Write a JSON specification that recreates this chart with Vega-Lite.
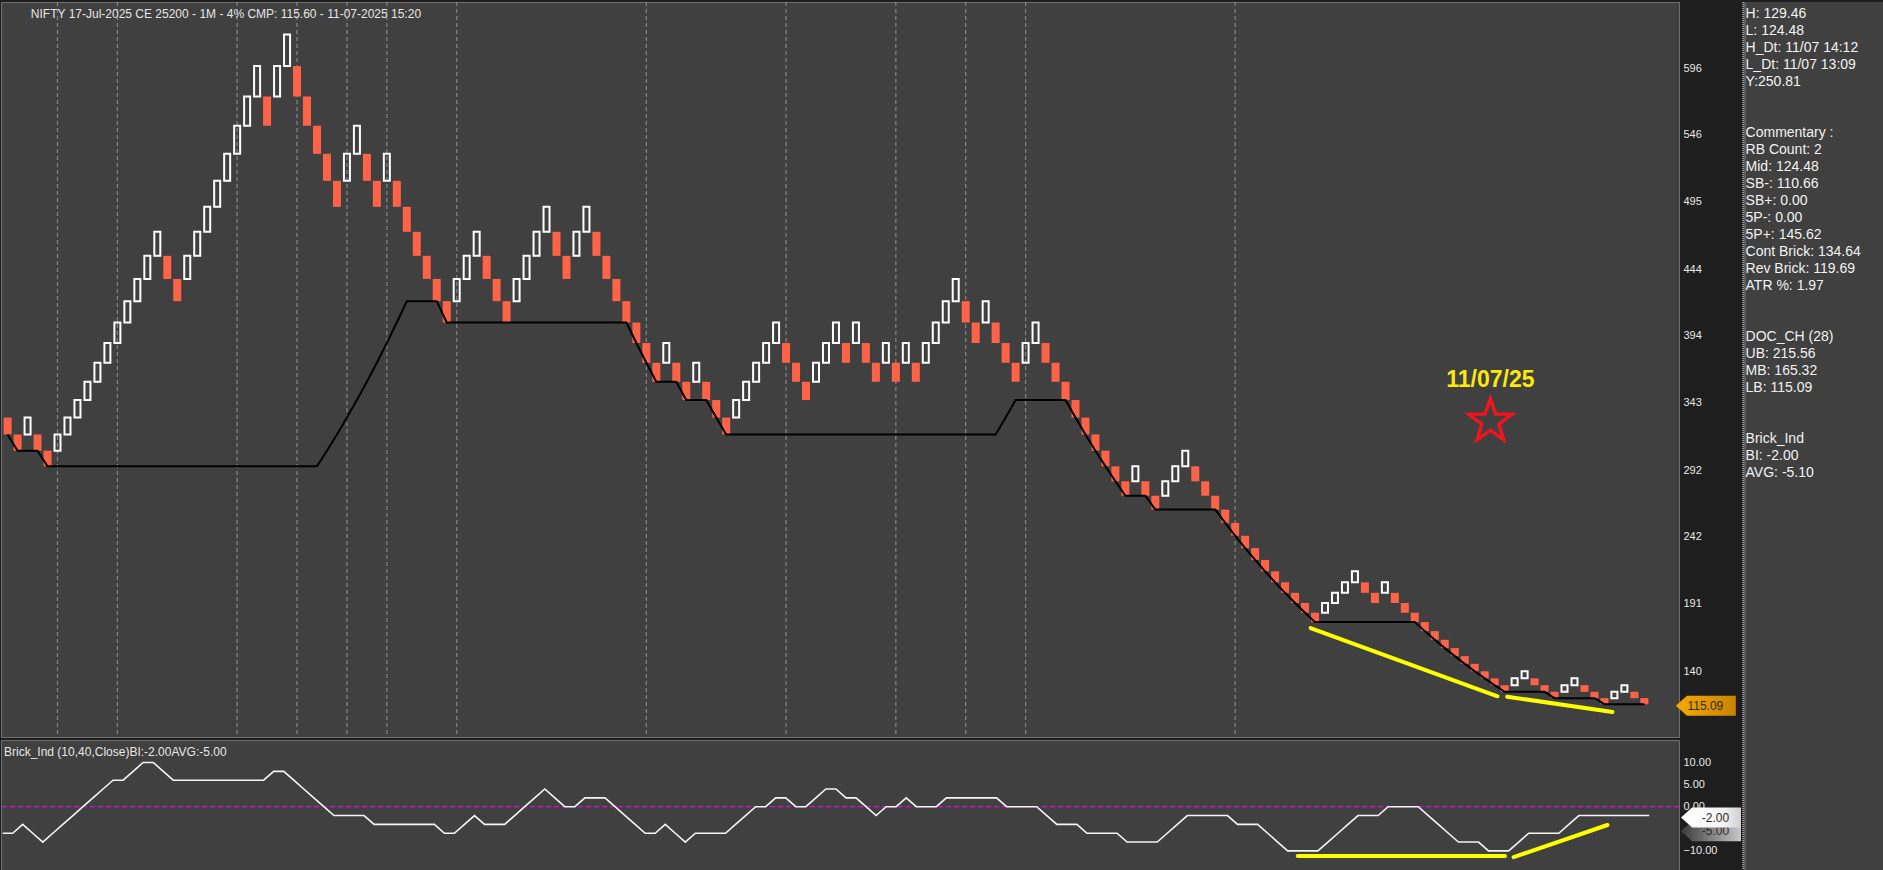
{
"$schema": "https://vega.github.io/schema/vega-lite/v6.json",
"background": "#1e1e1e",
"padding": 0,
"spacing": 0,
"config": {
  "view": {"stroke": null},
  "axis": {"domain": false, "ticks": false, "grid": false, "labelColor": "#e8e8e8", "labelFont": "Liberation Sans", "labelFontSize": 11, "labelPadding": 4, "minExtent": 62, "maxExtent": 62, "title": null, "labelOverlap": false}
},
"datasets": {
  "bricks": [
{"i":0,"lo":319.08,"hi":331.84,"d":"D","lb":319.08,"bi":-6},
{"i":1,"lo":306.8,"hi":319.08,"d":"D","lb":306.8,"bi":-6},
{"i":2,"lo":319.08,"hi":331.84,"d":"U","lb":306.8,"bi":-4},
{"i":3,"lo":306.8,"hi":319.08,"d":"D","lb":306.8,"bi":-6},
{"i":4,"lo":295.0,"hi":306.8,"d":"D","lb":295.0,"bi":-8},
{"i":5,"lo":306.8,"hi":319.08,"d":"U","lb":295.0,"bi":-6},
{"i":6,"lo":319.08,"hi":331.84,"d":"U","lb":295.0,"bi":-4},
{"i":7,"lo":331.84,"hi":345.11,"d":"U","lb":295.0,"bi":-2},
{"i":8,"lo":345.11,"hi":358.92,"d":"U","lb":295.0,"bi":0},
{"i":9,"lo":358.92,"hi":373.28,"d":"U","lb":295.0,"bi":2},
{"i":10,"lo":373.28,"hi":388.21,"d":"U","lb":295.0,"bi":4},
{"i":11,"lo":388.21,"hi":403.73,"d":"U","lb":295.0,"bi":6},
{"i":12,"lo":403.73,"hi":419.88,"d":"U","lb":295.0,"bi":6},
{"i":13,"lo":419.88,"hi":436.68,"d":"U","lb":295.0,"bi":8},
{"i":14,"lo":436.68,"hi":454.15,"d":"U","lb":295.0,"bi":10},
{"i":15,"lo":454.15,"hi":472.31,"d":"U","lb":295.0,"bi":10},
{"i":16,"lo":436.68,"hi":454.15,"d":"D","lb":295.0,"bi":8},
{"i":17,"lo":419.88,"hi":436.68,"d":"D","lb":295.0,"bi":6},
{"i":18,"lo":436.68,"hi":454.15,"d":"U","lb":295.0,"bi":6},
{"i":19,"lo":454.15,"hi":472.31,"d":"U","lb":295.0,"bi":6},
{"i":20,"lo":472.31,"hi":491.2,"d":"U","lb":295.0,"bi":6},
{"i":21,"lo":491.2,"hi":510.85,"d":"U","lb":295.0,"bi":6},
{"i":22,"lo":510.85,"hi":531.29,"d":"U","lb":295.0,"bi":6},
{"i":23,"lo":531.29,"hi":552.54,"d":"U","lb":295.0,"bi":6},
{"i":24,"lo":552.54,"hi":574.64,"d":"U","lb":295.0,"bi":6},
{"i":25,"lo":574.64,"hi":597.62,"d":"U","lb":295.0,"bi":6},
{"i":26,"lo":552.54,"hi":574.64,"d":"D","lb":295.0,"bi":6},
{"i":27,"lo":574.64,"hi":597.62,"d":"U","lb":295.0,"bi":8},
{"i":28,"lo":597.62,"hi":621.53,"d":"U","lb":295.0,"bi":8},
{"i":29,"lo":574.64,"hi":597.62,"d":"D","lb":295.0,"bi":6},
{"i":30,"lo":552.54,"hi":574.64,"d":"D","lb":295.0,"bi":4},
{"i":31,"lo":531.29,"hi":552.54,"d":"D","lb":295.0,"bi":2},
{"i":32,"lo":510.85,"hi":531.29,"d":"D","lb":306.8,"bi":0},
{"i":33,"lo":491.2,"hi":510.85,"d":"D","lb":319.08,"bi":-2},
{"i":34,"lo":510.85,"hi":531.29,"d":"U","lb":331.84,"bi":-2},
{"i":35,"lo":531.29,"hi":552.54,"d":"U","lb":345.11,"bi":-2},
{"i":36,"lo":510.85,"hi":531.29,"d":"D","lb":358.92,"bi":-2},
{"i":37,"lo":491.2,"hi":510.85,"d":"D","lb":373.28,"bi":-4},
{"i":38,"lo":510.85,"hi":531.29,"d":"U","lb":388.21,"bi":-4},
{"i":39,"lo":491.2,"hi":510.85,"d":"D","lb":403.73,"bi":-4},
{"i":40,"lo":472.31,"hi":491.2,"d":"D","lb":419.88,"bi":-4},
{"i":41,"lo":454.15,"hi":472.31,"d":"D","lb":419.88,"bi":-4},
{"i":42,"lo":436.68,"hi":454.15,"d":"D","lb":419.88,"bi":-4},
{"i":43,"lo":419.88,"hi":436.68,"d":"D","lb":419.88,"bi":-4},
{"i":44,"lo":403.73,"hi":419.88,"d":"D","lb":403.73,"bi":-6},
{"i":45,"lo":419.88,"hi":436.68,"d":"U","lb":403.73,"bi":-6},
{"i":46,"lo":436.68,"hi":454.15,"d":"U","lb":403.73,"bi":-4},
{"i":47,"lo":454.15,"hi":472.31,"d":"U","lb":403.73,"bi":-2},
{"i":48,"lo":436.68,"hi":454.15,"d":"D","lb":403.73,"bi":-4},
{"i":49,"lo":419.88,"hi":436.68,"d":"D","lb":403.73,"bi":-4},
{"i":50,"lo":403.73,"hi":419.88,"d":"D","lb":403.73,"bi":-4},
{"i":51,"lo":419.88,"hi":436.68,"d":"U","lb":403.73,"bi":-2},
{"i":52,"lo":436.68,"hi":454.15,"d":"U","lb":403.73,"bi":0},
{"i":53,"lo":454.15,"hi":472.31,"d":"U","lb":403.73,"bi":2},
{"i":54,"lo":472.31,"hi":491.2,"d":"U","lb":403.73,"bi":4},
{"i":55,"lo":454.15,"hi":472.31,"d":"D","lb":403.73,"bi":2},
{"i":56,"lo":436.68,"hi":454.15,"d":"D","lb":403.73,"bi":0},
{"i":57,"lo":454.15,"hi":472.31,"d":"U","lb":403.73,"bi":0},
{"i":58,"lo":472.31,"hi":491.2,"d":"U","lb":403.73,"bi":2},
{"i":59,"lo":454.15,"hi":472.31,"d":"D","lb":403.73,"bi":2},
{"i":60,"lo":436.68,"hi":454.15,"d":"D","lb":403.73,"bi":2},
{"i":61,"lo":419.88,"hi":436.68,"d":"D","lb":403.73,"bi":0},
{"i":62,"lo":403.73,"hi":419.88,"d":"D","lb":403.73,"bi":-2},
{"i":63,"lo":388.21,"hi":403.73,"d":"D","lb":388.21,"bi":-4},
{"i":64,"lo":373.28,"hi":388.21,"d":"D","lb":373.28,"bi":-6},
{"i":65,"lo":358.92,"hi":373.28,"d":"D","lb":358.92,"bi":-6},
{"i":66,"lo":373.28,"hi":388.21,"d":"U","lb":358.92,"bi":-4},
{"i":67,"lo":358.92,"hi":373.28,"d":"D","lb":358.92,"bi":-6},
{"i":68,"lo":345.11,"hi":358.92,"d":"D","lb":345.11,"bi":-8},
{"i":69,"lo":358.92,"hi":373.28,"d":"U","lb":345.11,"bi":-6},
{"i":70,"lo":345.11,"hi":358.92,"d":"D","lb":345.11,"bi":-6},
{"i":71,"lo":331.84,"hi":345.11,"d":"D","lb":331.84,"bi":-6},
{"i":72,"lo":319.08,"hi":331.84,"d":"D","lb":319.08,"bi":-6},
{"i":73,"lo":331.84,"hi":345.11,"d":"U","lb":319.08,"bi":-4},
{"i":74,"lo":345.11,"hi":358.92,"d":"U","lb":319.08,"bi":-2},
{"i":75,"lo":358.92,"hi":373.28,"d":"U","lb":319.08,"bi":0},
{"i":76,"lo":373.28,"hi":388.21,"d":"U","lb":319.08,"bi":0},
{"i":77,"lo":388.21,"hi":403.73,"d":"U","lb":319.08,"bi":2},
{"i":78,"lo":373.28,"hi":388.21,"d":"D","lb":319.08,"bi":2},
{"i":79,"lo":358.92,"hi":373.28,"d":"D","lb":319.08,"bi":0},
{"i":80,"lo":345.11,"hi":358.92,"d":"D","lb":319.08,"bi":0},
{"i":81,"lo":358.92,"hi":373.28,"d":"U","lb":319.08,"bi":2},
{"i":82,"lo":373.28,"hi":388.21,"d":"U","lb":319.08,"bi":4},
{"i":83,"lo":388.21,"hi":403.73,"d":"U","lb":319.08,"bi":4},
{"i":84,"lo":373.28,"hi":388.21,"d":"D","lb":319.08,"bi":2},
{"i":85,"lo":388.21,"hi":403.73,"d":"U","lb":319.08,"bi":2},
{"i":86,"lo":373.28,"hi":388.21,"d":"D","lb":319.08,"bi":0},
{"i":87,"lo":358.92,"hi":373.28,"d":"D","lb":319.08,"bi":-2},
{"i":88,"lo":373.28,"hi":388.21,"d":"U","lb":319.08,"bi":0},
{"i":89,"lo":358.92,"hi":373.28,"d":"D","lb":319.08,"bi":0},
{"i":90,"lo":373.28,"hi":388.21,"d":"U","lb":319.08,"bi":2},
{"i":91,"lo":358.92,"hi":373.28,"d":"D","lb":319.08,"bi":0},
{"i":92,"lo":373.28,"hi":388.21,"d":"U","lb":319.08,"bi":0},
{"i":93,"lo":388.21,"hi":403.73,"d":"U","lb":319.08,"bi":0},
{"i":94,"lo":403.73,"hi":419.88,"d":"U","lb":319.08,"bi":2},
{"i":95,"lo":419.88,"hi":436.68,"d":"U","lb":319.08,"bi":2},
{"i":96,"lo":403.73,"hi":419.88,"d":"D","lb":319.08,"bi":2},
{"i":97,"lo":388.21,"hi":403.73,"d":"D","lb":319.08,"bi":2},
{"i":98,"lo":403.73,"hi":419.88,"d":"U","lb":319.08,"bi":2},
{"i":99,"lo":388.21,"hi":403.73,"d":"D","lb":319.08,"bi":2},
{"i":100,"lo":373.28,"hi":388.21,"d":"D","lb":331.84,"bi":0},
{"i":101,"lo":358.92,"hi":373.28,"d":"D","lb":345.11,"bi":0},
{"i":102,"lo":373.28,"hi":388.21,"d":"U","lb":345.11,"bi":0},
{"i":103,"lo":388.21,"hi":403.73,"d":"U","lb":345.11,"bi":0},
{"i":104,"lo":373.28,"hi":388.21,"d":"D","lb":345.11,"bi":-2},
{"i":105,"lo":358.92,"hi":373.28,"d":"D","lb":345.11,"bi":-4},
{"i":106,"lo":345.11,"hi":358.92,"d":"D","lb":345.11,"bi":-4},
{"i":107,"lo":331.84,"hi":345.11,"d":"D","lb":331.84,"bi":-4},
{"i":108,"lo":319.08,"hi":331.84,"d":"D","lb":319.08,"bi":-6},
{"i":109,"lo":306.8,"hi":319.08,"d":"D","lb":306.8,"bi":-6},
{"i":110,"lo":295.0,"hi":306.8,"d":"D","lb":295.0,"bi":-6},
{"i":111,"lo":283.66,"hi":295.0,"d":"D","lb":283.66,"bi":-6},
{"i":112,"lo":272.75,"hi":283.66,"d":"D","lb":272.75,"bi":-8},
{"i":113,"lo":283.66,"hi":295.0,"d":"U","lb":272.75,"bi":-8},
{"i":114,"lo":272.75,"hi":283.66,"d":"D","lb":272.75,"bi":-8},
{"i":115,"lo":262.26,"hi":272.75,"d":"D","lb":262.26,"bi":-8},
{"i":116,"lo":272.75,"hi":283.66,"d":"U","lb":262.26,"bi":-6},
{"i":117,"lo":283.66,"hi":295.0,"d":"U","lb":262.26,"bi":-4},
{"i":118,"lo":295.0,"hi":306.8,"d":"U","lb":262.26,"bi":-2},
{"i":119,"lo":283.66,"hi":295.0,"d":"D","lb":262.26,"bi":-2},
{"i":120,"lo":272.75,"hi":283.66,"d":"D","lb":262.26,"bi":-2},
{"i":121,"lo":262.26,"hi":272.75,"d":"D","lb":262.26,"bi":-2},
{"i":122,"lo":252.17,"hi":262.26,"d":"D","lb":252.17,"bi":-2},
{"i":123,"lo":242.47,"hi":252.17,"d":"D","lb":242.47,"bi":-4},
{"i":124,"lo":233.15,"hi":242.47,"d":"D","lb":233.15,"bi":-4},
{"i":125,"lo":224.18,"hi":233.15,"d":"D","lb":224.18,"bi":-4},
{"i":126,"lo":215.56,"hi":224.18,"d":"D","lb":215.56,"bi":-6},
{"i":127,"lo":207.27,"hi":215.56,"d":"D","lb":207.27,"bi":-8},
{"i":128,"lo":199.3,"hi":207.27,"d":"D","lb":199.3,"bi":-10},
{"i":129,"lo":191.63,"hi":199.3,"d":"D","lb":191.63,"bi":-10},
{"i":130,"lo":184.26,"hi":191.63,"d":"D","lb":184.26,"bi":-10},
{"i":131,"lo":177.17,"hi":184.26,"d":"D","lb":177.17,"bi":-10},
{"i":132,"lo":184.26,"hi":191.63,"d":"U","lb":177.17,"bi":-8},
{"i":133,"lo":191.63,"hi":199.3,"d":"U","lb":177.17,"bi":-6},
{"i":134,"lo":199.3,"hi":207.27,"d":"U","lb":177.17,"bi":-4},
{"i":135,"lo":207.27,"hi":215.56,"d":"U","lb":177.17,"bi":-2},
{"i":136,"lo":199.3,"hi":207.27,"d":"D","lb":177.17,"bi":-2},
{"i":137,"lo":191.63,"hi":199.3,"d":"D","lb":177.17,"bi":-2},
{"i":138,"lo":199.3,"hi":207.27,"d":"U","lb":177.17,"bi":0},
{"i":139,"lo":191.63,"hi":199.3,"d":"D","lb":177.17,"bi":0},
{"i":140,"lo":184.26,"hi":191.63,"d":"D","lb":177.17,"bi":0},
{"i":141,"lo":177.17,"hi":184.26,"d":"D","lb":177.17,"bi":0},
{"i":142,"lo":170.36,"hi":177.17,"d":"D","lb":170.36,"bi":-2},
{"i":143,"lo":163.81,"hi":170.36,"d":"D","lb":163.81,"bi":-4},
{"i":144,"lo":157.51,"hi":163.81,"d":"D","lb":157.51,"bi":-6},
{"i":145,"lo":151.45,"hi":157.51,"d":"D","lb":151.45,"bi":-8},
{"i":146,"lo":145.62,"hi":151.45,"d":"D","lb":145.62,"bi":-8},
{"i":147,"lo":140.02,"hi":145.62,"d":"D","lb":140.02,"bi":-8},
{"i":148,"lo":134.64,"hi":140.02,"d":"D","lb":134.64,"bi":-10},
{"i":149,"lo":129.46,"hi":134.64,"d":"D","lb":129.46,"bi":-10},
{"i":150,"lo":124.48,"hi":129.46,"d":"D","lb":124.48,"bi":-10},
{"i":151,"lo":129.46,"hi":134.64,"d":"U","lb":124.48,"bi":-8},
{"i":152,"lo":134.64,"hi":140.02,"d":"U","lb":124.48,"bi":-6},
{"i":153,"lo":129.46,"hi":134.64,"d":"D","lb":124.48,"bi":-6},
{"i":154,"lo":124.48,"hi":129.46,"d":"D","lb":124.48,"bi":-6},
{"i":155,"lo":119.69,"hi":124.48,"d":"D","lb":119.69,"bi":-6},
{"i":156,"lo":124.48,"hi":129.46,"d":"U","lb":119.69,"bi":-4},
{"i":157,"lo":129.46,"hi":134.64,"d":"U","lb":119.69,"bi":-2},
{"i":158,"lo":124.48,"hi":129.46,"d":"D","lb":119.69,"bi":-2},
{"i":159,"lo":119.69,"hi":124.48,"d":"D","lb":119.69,"bi":-2},
{"i":160,"lo":115.09,"hi":119.69,"d":"D","lb":115.09,"bi":-2},
{"i":161,"lo":119.69,"hi":124.48,"d":"U","lb":115.09,"bi":-2},
{"i":162,"lo":124.48,"hi":129.46,"d":"U","lb":115.09,"bi":-2},
{"i":163,"lo":119.69,"hi":124.48,"d":"D","lb":115.09,"bi":-2},
{"i":164,"lo":115.09,"hi":119.69,"d":"D","lb":115.09,"bi":-2}
  ],
  "grid": [{"i":5},{"i":11},{"i":23},{"i":29},{"i":34},{"i":38},{"i":45},{"i":64},{"i":78},{"i":89},{"i":96},{"i":102},{"i":123}],
  "trend": [
    {"pane":"price","x":130.56,"y":172.7,"x2":149.29,"y2":121.1},
    {"pane":"price","x":150.25,"y":120.8,"x2":160.8,"y2":109.2},
    {"pane":"ind","x":129.0,"y":-11.15,"x2":149.64,"y2":-11.15},
    {"pane":"ind","x":150.5,"y":-11.4,"x2":159.84,"y2":-4.14}
  ],
  "info": [
    {"n":0,"t":"H: 129.46"},{"n":1,"t":"L: 124.48"},{"n":2,"t":"H_Dt: 11/07 14:12"},{"n":3,"t":"L_Dt: 11/07 13:09"},{"n":4,"t":"Y:250.81"},
    {"n":7,"t":"Commentary :"},{"n":8,"t":"RB Count: 2"},{"n":9,"t":"Mid: 124.48"},{"n":10,"t":"SB-: 110.66"},{"n":11,"t":"SB+: 0.00"},{"n":12,"t":"5P-: 0.00"},{"n":13,"t":"5P+: 145.62"},{"n":14,"t":"Cont Brick: 134.64"},{"n":15,"t":"Rev Brick: 119.69"},{"n":16,"t":"ATR %: 1.97"},
    {"n":19,"t":"DOC_CH (28)"},{"n":20,"t":"UB: 215.56"},{"n":21,"t":"MB: 165.32"},{"n":22,"t":"LB: 115.09"},
    {"n":25,"t":"Brick_Ind"},{"n":26,"t":"BI: -2.00"},{"n":27,"t":"AVG: -5.10"}
  ]
},
"hconcat": [
  {
    "spacing": 0,
    "vconcat": [
      {
        "width": 1678, "height": 735,
        "view": {"fill": "#404040", "stroke": "#6e6e6e"},
        "layer": [
          {
            "data": {"name": "grid"},
            "mark": {"type": "rule", "color": "#858585", "strokeDash": [4, 3], "strokeWidth": 1.2},
            "encoding": {
              "x": {"field": "i", "type": "quantitative", "scale": {"domain": [-0.16, 166.97], "nice": false, "zero": false}, "axis": null}
            }
          },
          {
            "data": {"name": "bricks"},
            "transform": [{"filter": "datum.d === 'D'"}],
            "mark": {"type": "bar", "width": 8, "color": "#ff6347", "clip": true},
            "encoding": {
              "x": {"field": "i", "type": "quantitative", "scale": {"domain": [-0.16, 166.97], "nice": false, "zero": false}, "axis": null},
              "y": {"field": "lo", "type": "quantitative", "scale": {"domain": [90.3, 646.1], "nice": false, "zero": false},
                    "axis": {"orient": "right", "values": [140, 191, 242, 292, 343, 394, 444, 495, 546, 596], "format": "d"}},
              "y2": {"field": "hi"}
            }
          },
          {
            "data": {"name": "bricks"},
            "transform": [{"filter": "datum.d === 'U'"}],
            "mark": {"type": "bar", "width": 6, "filled": false, "fill": null, "stroke": "#ffffff", "strokeWidth": 2, "clip": true},
            "encoding": {
              "x": {"field": "i", "type": "quantitative", "scale": {"domain": [-0.16, 166.97], "nice": false, "zero": false}, "axis": null},
              "y": {"field": "lo", "type": "quantitative", "scale": {"domain": [90.3, 646.1], "nice": false, "zero": false},
                    "axis": {"orient": "right", "values": [140, 191, 242, 292, 343, 394, 444, 495, 546, 596], "format": "d"}},
              "y2": {"field": "hi"}
            }
          },
          {
            "data": {"name": "bricks"},
            "mark": {"type": "line", "color": "#000000", "strokeWidth": 2, "clip": true},
            "encoding": {
              "x": {"field": "i", "type": "quantitative", "scale": {"domain": [-0.16, 166.97], "nice": false, "zero": false}, "axis": null},
              "y": {"field": "lb", "type": "quantitative", "scale": {"domain": [90.3, 646.1], "nice": false, "zero": false},
                    "axis": {"orient": "right", "values": [140, 191, 242, 292, 343, 394, 444, 495, 546, 596], "format": "d"}}
            }
          },
          {
            "data": {"name": "trend"},
            "transform": [{"filter": "datum.pane === 'price'"}],
            "mark": {"type": "rule", "color": "#ffff00", "strokeWidth": 4, "strokeCap": "round"},
            "encoding": {
              "x": {"field": "x", "type": "quantitative", "scale": {"domain": [-0.16, 166.97], "nice": false, "zero": false}, "axis": null},
              "y": {"field": "y", "type": "quantitative", "scale": {"domain": [90.3, 646.1], "nice": false, "zero": false},
                    "axis": {"orient": "right", "values": [140, 191, 242, 292, 343, 394, 444, 495, 546, 596], "format": "d"}},
              "x2": {"field": "x2"},
              "y2": {"field": "y2"}
            }
          },
          {
            "data": {"values": [{}]},
            "mark": {"type": "text", "text": "NIFTY 17-Jul-2025 CE 25200 - 1M - 4% CMP: 115.60 - 11-07-2025 15:20", "align": "left", "baseline": "middle", "font": "Liberation Sans", "fontSize": 12, "color": "#e6e6e6"},
            "encoding": {
              "x": {"datum": 2.33, "type": "quantitative", "scale": {"domain": [-0.16, 166.97], "nice": false, "zero": false}, "axis": null},
              "y": {"datum": 637.2, "type": "quantitative", "scale": {"domain": [90.3, 646.1], "nice": false, "zero": false},
                    "axis": {"orient": "right", "values": [140, 191, 242, 292, 343, 394, 444, 495, 546, 596], "format": "d"}}
            }
          },
          {
            "data": {"values": [{}]},
            "mark": {"type": "text", "text": "11/07/25", "align": "center", "baseline": "middle", "font": "Liberation Sans", "fontWeight": "bold", "fontSize": 23, "color": "#fbe80c"},
            "encoding": {
              "x": {"datum": 148.57, "type": "quantitative", "scale": {"domain": [-0.16, 166.97], "nice": false, "zero": false}, "axis": null},
              "y": {"datum": 360.5, "type": "quantitative", "scale": {"domain": [90.3, 646.1], "nice": false, "zero": false},
                    "axis": {"orient": "right", "values": [140, 191, 242, 292, 343, 394, 444, 495, 546, 596], "format": "d"}}
            }
          },
          {
            "data": {"values": [{}]},
            "mark": {"type": "point", "shape": "M0,-1L0.235,-0.324L0.951,-0.309L0.38,0.124L0.588,0.809L0,0.4L-0.588,0.809L-0.38,0.124L-0.951,-0.309L-0.235,-0.324Z", "size": 2043, "filled": false, "stroke": "#f0141e", "strokeWidth": 3.5, "strokeJoin": "miter", "opacity": 1},
            "encoding": {
              "x": {"datum": 148.57, "type": "quantitative", "scale": {"domain": [-0.16, 166.97], "nice": false, "zero": false}, "axis": null},
              "y": {"datum": 329.0, "type": "quantitative", "scale": {"domain": [90.3, 646.1], "nice": false, "zero": false},
                    "axis": {"orient": "right", "values": [140, 191, 242, 292, 343, 394, 444, 495, 546, 596], "format": "d"}}
            }
          },
          {
            "data": {"values": [{}]},
            "mark": {"type": "point", "shape": "M-1,0L-0.63,-0.333L1,-0.333L1,0.333L-0.63,0.333Z", "size": 3600, "filled": true, "opacity": 1, "clip": false, "yOffset": 1.5,
                     "fill": {"gradient": "linear", "x1": 0, "y1": 0, "x2": 1, "y2": 0, "stops": [{"offset": 0, "color": "#f7aa00"}, {"offset": 1, "color": "#c98300"}]}},
            "encoding": {
              "x": {"datum": 170.16, "type": "quantitative", "scale": {"domain": [-0.16, 166.97], "nice": false, "zero": false}, "axis": null},
              "y": {"datum": 115.09, "type": "quantitative", "scale": {"domain": [90.3, 646.1], "nice": false, "zero": false},
                    "axis": {"orient": "right", "values": [140, 191, 242, 292, 343, 394, 444, 495, 546, 596], "format": "d"}}
            }
          },
          {
            "data": {"values": [{}]},
            "mark": {"type": "text", "text": "115.09", "align": "center", "baseline": "middle", "font": "Liberation Sans", "fontSize": 12, "color": "#2b2b2b", "clip": false, "yOffset": 1.5},
            "encoding": {
              "x": {"datum": 170.11, "type": "quantitative", "scale": {"domain": [-0.16, 166.97], "nice": false, "zero": false}, "axis": null},
              "y": {"datum": 115.09, "type": "quantitative", "scale": {"domain": [90.3, 646.1], "nice": false, "zero": false},
                    "axis": {"orient": "right", "values": [140, 191, 242, 292, 343, 394, 444, 495, 546, 596], "format": "d"}}
            }
          }
        ]
      },
      {
        "width": 1678, "height": 135,
        "view": {"fill": "#404040", "stroke": "#6e6e6e"},
        "layer": [
          {
            "data": {"values": [{}]},
            "mark": {"type": "rule", "color": "#ff00ff", "strokeDash": [5, 3], "strokeWidth": 1},
            "encoding": {
              "y": {"datum": 0, "type": "quantitative", "scale": {"domain": [-15.45, 15.09], "nice": false, "zero": false},
                    "axis": {"orient": "right", "values": [10, 5, 0, -5, -10], "format": ".2f"}}
            }
          },
          {
            "data": {"name": "bricks"},
            "mark": {"type": "line", "color": "#f4f4f4", "strokeWidth": 1.6, "clip": true},
            "encoding": {
              "x": {"field": "i", "type": "quantitative", "scale": {"domain": [-0.16, 166.97], "nice": false, "zero": false}, "axis": null},
              "y": {"field": "bi", "type": "quantitative", "scale": {"domain": [-15.45, 15.09], "nice": false, "zero": false},
                    "axis": {"orient": "right", "values": [10, 5, 0, -5, -10], "format": ".2f"}}
            }
          },
          {
            "data": {"name": "trend"},
            "transform": [{"filter": "datum.pane === 'ind'"}],
            "mark": {"type": "rule", "color": "#ffff00", "strokeWidth": 4, "strokeCap": "round"},
            "encoding": {
              "x": {"field": "x", "type": "quantitative", "scale": {"domain": [-0.16, 166.97], "nice": false, "zero": false}, "axis": null},
              "y": {"field": "y", "type": "quantitative", "scale": {"domain": [-15.45, 15.09], "nice": false, "zero": false},
                    "axis": {"orient": "right", "values": [10, 5, 0, -5, -10], "format": ".2f"}},
              "x2": {"field": "x2"},
              "y2": {"field": "y2"}
            }
          },
          {
            "data": {"values": [{}]},
            "mark": {"type": "text", "text": "Brick_Ind (10,40,Close)BI:-2.00AVG:-5.00", "align": "left", "baseline": "middle", "font": "Liberation Sans", "fontSize": 12, "color": "#e6e6e6"},
            "encoding": {
              "x": {"datum": 0.14, "type": "quantitative", "scale": {"domain": [-0.16, 166.97], "nice": false, "zero": false}, "axis": null},
              "y": {"datum": 12.3, "type": "quantitative", "scale": {"domain": [-15.45, 15.09], "nice": false, "zero": false},
                    "axis": {"orient": "right", "values": [10, 5, 0, -5, -10], "format": ".2f"}}
            }
          },
          {
            "data": {"values": [{}]},
            "mark": {"type": "point", "shape": "M-1,0L-0.63,-0.333L1,-0.333L1,0.333L-0.63,0.333Z", "size": 3600, "filled": true, "opacity": 1, "clip": false, "yOffset": 2,
                     "fill": {"gradient": "linear", "x1": 0, "y1": 0, "x2": 1, "y2": 0, "stops": [{"offset": 0, "color": "#3a3a3a"}, {"offset": 1, "color": "#c8c8c8"}]}},
            "encoding": {
              "x": {"datum": 170.16, "type": "quantitative", "scale": {"domain": [-0.16, 166.97], "nice": false, "zero": false}, "axis": null},
              "y": {"datum": -5.1, "type": "quantitative", "scale": {"domain": [-15.45, 15.09], "nice": false, "zero": false},
                    "axis": {"orient": "right", "values": [10, 5, 0, -5, -10], "format": ".2f"}}
            }
          },
          {
            "data": {"values": [{}]},
            "mark": {"type": "text", "text": "-5.00", "align": "center", "baseline": "middle", "font": "Liberation Sans", "fontSize": 12, "color": "#2b2b2b", "clip": false, "yOffset": 2},
            "encoding": {
              "x": {"datum": 170.6, "type": "quantitative", "scale": {"domain": [-0.16, 166.97], "nice": false, "zero": false}, "axis": null},
              "y": {"datum": -5.1, "type": "quantitative", "scale": {"domain": [-15.45, 15.09], "nice": false, "zero": false},
                    "axis": {"orient": "right", "values": [10, 5, 0, -5, -10], "format": ".2f"}}
            }
          },
          {
            "data": {"values": [{}]},
            "mark": {"type": "point", "shape": "M-1,0L-0.63,-0.333L1,-0.333L1,0.333L-0.63,0.333Z", "size": 3600, "filled": true, "opacity": 1, "clip": false, "yOffset": 2,
                     "fill": {"gradient": "linear", "x1": 0, "y1": 0, "x2": 1, "y2": 0, "stops": [{"offset": 0, "color": "#ffffff"}, {"offset": 0.7, "color": "#f4f4f4"}, {"offset": 1, "color": "#cfcfcf"}]}},
            "encoding": {
              "x": {"datum": 170.16, "type": "quantitative", "scale": {"domain": [-0.16, 166.97], "nice": false, "zero": false}, "axis": null},
              "y": {"datum": -2, "type": "quantitative", "scale": {"domain": [-15.45, 15.09], "nice": false, "zero": false},
                    "axis": {"orient": "right", "values": [10, 5, 0, -5, -10], "format": ".2f"}}
            }
          },
          {
            "data": {"values": [{}]},
            "mark": {"type": "text", "text": "-2.00", "align": "center", "baseline": "middle", "font": "Liberation Sans", "fontSize": 12, "color": "#2b2b2b", "clip": false, "yOffset": 2},
            "encoding": {
              "x": {"datum": 170.6, "type": "quantitative", "scale": {"domain": [-0.16, 166.97], "nice": false, "zero": false}, "axis": null},
              "y": {"datum": -2, "type": "quantitative", "scale": {"domain": [-15.45, 15.09], "nice": false, "zero": false},
                    "axis": {"orient": "right", "values": [10, 5, 0, -5, -10], "format": ".2f"}}
            }
          }
        ]
      }
    ]
  },
  {
    "width": 143, "height": 870,
    "view": {"fill": "#404040", "stroke": null},
    "layer": [
      {
        "data": {"values": [{}]},
        "mark": {"type": "rule", "color": "#ffffff", "strokeDash": [1, 1], "strokeWidth": 1},
        "encoding": {
          "x": {"datum": 0, "type": "quantitative", "scale": {"domain": [0, 1], "nice": false, "zero": false}, "axis": null}
        }
      },
      {
        "data": {"values": [{}]},
        "mark": {"type": "rule", "color": "#5e5e5e", "strokeWidth": 2},
        "encoding": {
          "x": {"datum": 0.014, "type": "quantitative", "scale": {"domain": [0, 1], "nice": false, "zero": false}, "axis": null}
        }
      },
      {
        "data": {"name": "info"},
        "mark": {"type": "text", "align": "left", "baseline": "middle", "font": "Liberation Sans", "fontSize": 14, "color": "#f2f2f2"},
        "encoding": {
          "x": {"datum": 0.018, "type": "quantitative", "scale": {"domain": [0, 1], "nice": false, "zero": false}, "axis": null},
          "y": {"field": "n", "type": "quantitative", "scale": {"domain": [-0.7244, 50.51], "reverse": true, "nice": false, "zero": false}, "axis": null},
          "text": {"field": "t"}
        }
      }
    ]
  }
]
}
